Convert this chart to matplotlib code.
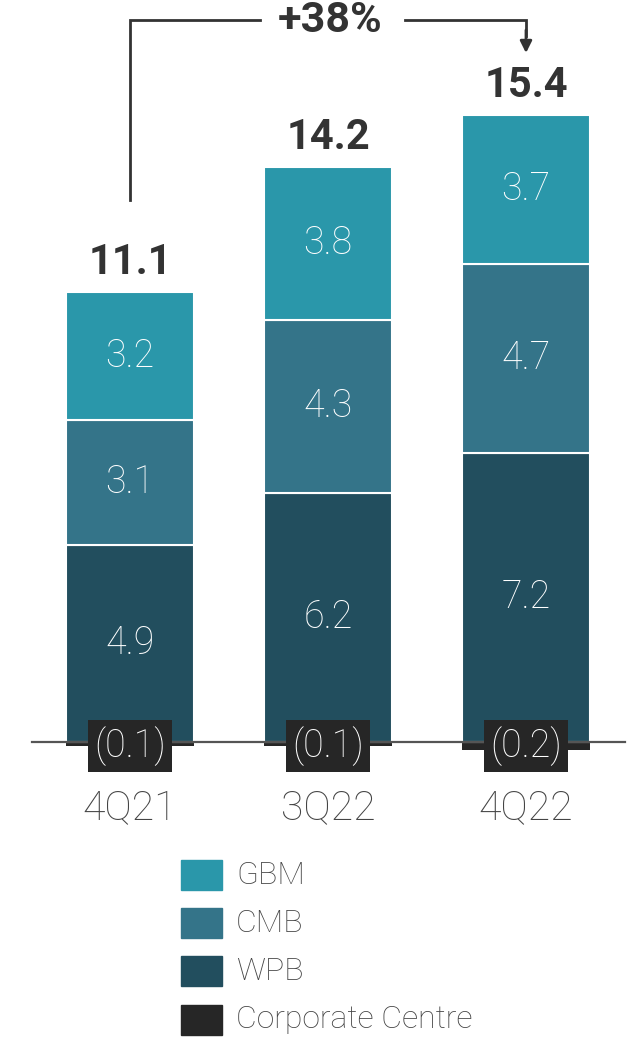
import matplotlib
matplotlib.use("Agg")
import matplotlib.pyplot as plt
import numpy as np

# Quarterly figures ($bn) by business segment
quarters = ["4Q21", "3Q22", "4Q22"]
gbm = [3.2, 3.8, 3.7]
cmb = [3.1, 4.3, 4.7]
wpb = [4.9, 6.2, 7.2]
corporate = [-0.1, -0.1, -0.2]
totals = [11.1, 14.2, 15.4]
growth_label = "+38%"

segment_names = ["GBM", "CMB", "WPB", "Corporate Centre"]
colors = {"GBM": "#2a97aa", "CMB": "#347489", "WPB": "#224e5e",
          "Corporate Centre": "#262626"}

plt.rcParams["font.family"] = ["Roboto", "DejaVu Sans"]

W, H = 634, 1037
PX = 40.2   # pixels per data unit
Y0 = 742    # pixel row of the zero line
fig = plt.figure(figsize=(W / 100, H / 100), dpi=100)
ax = fig.add_axes([0, 0, 1, 1])
ax.set_ylim((Y0 - H) / PX, Y0 / PX)
ax.set_xlim(-130 / 198, (W - 130) / 198)
ax.axis("off")


def py(p):
    """Pixel row -> data y."""
    return (Y0 - p) / PX


def px(p):
    """Pixel column -> data x."""
    return (p - 130) / 198


x = np.arange(len(quarters))
width = 0.646

b_wpb = np.array(wpb)
b_cmb = b_wpb + np.array(cmb)

ax.bar(x, corporate, width, color=colors["Corporate Centre"], zorder=2)
ax.bar(x, wpb, width, color=colors["WPB"], edgecolor="white", linewidth=1.5, zorder=2)
ax.bar(x, cmb, width, bottom=b_wpb, color=colors["CMB"], edgecolor="white", linewidth=1.5, zorder=2)
ax.bar(x, gbm, width, bottom=b_cmb, color=colors["GBM"], edgecolor="white", linewidth=1.5, zorder=2)

# zero line
ax.plot([px(32), px(625)], [0, 0], color="#555555", lw=1.6, zorder=3)

seg_fs = 27
for i in range(len(quarters)):
    ax.text(x[i], wpb[i] / 2, f"{wpb[i]:.1f}", ha="center", va="center",
            color="white", fontsize=seg_fs, fontweight="light", zorder=4)
    ax.text(x[i], b_wpb[i] + cmb[i] / 2, f"{cmb[i]:.1f}", ha="center", va="center",
            color="white", fontsize=seg_fs, fontweight="light", zorder=4)
    ax.text(x[i], b_cmb[i] + gbm[i] / 2, f"{gbm[i]:.1f}", ha="center", va="center",
            color="white", fontsize=seg_fs, fontweight="light", zorder=4)
    ax.text(x[i], -0.1, f"({abs(corporate[i]):.1f})", ha="center", va="center",
            color="white", fontsize=seg_fs, fontweight="light", zorder=5,
            bbox=dict(boxstyle="square,pad=0.16", fc=colors["Corporate Centre"], ec="none"))
    top = b_cmb[i] + gbm[i]
    ax.text(x[i], top + 0.22, f"{totals[i]:.1f}", ha="center", va="bottom",
            color="#333333", fontsize=30, fontweight="bold", zorder=4)
    ax.text(x[i], py(808), quarters[i], ha="center", va="center",
            color="#444444", fontsize=29.5, fontweight="light")

# growth connector between first and last quarter
y_line = py(20)
lc = "#333333"
ax.plot([x[0], x[0], px(260)], [py(200), y_line, y_line], color=lc, lw=2,
        solid_joinstyle="miter", zorder=3)
ax.plot([px(405), x[2], x[2]], [y_line, y_line, py(36)], color=lc, lw=2,
        solid_joinstyle="miter", zorder=3)
ax.annotate("", xy=(x[2], py(53)), xytext=(x[2], py(30)),
            arrowprops=dict(arrowstyle="-|>,head_width=0.35,head_length=0.7",
                            color=lc, lw=2, shrinkA=0, shrinkB=0))
ax.text((x[0] + x[2]) / 2 + 0.01, y_line, growth_label, ha="center", va="center",
        color="#333333", fontsize=31, fontweight="bold")

# legend drawn as swatches with labels
leg_x0 = px(181)
leg_w = 41 / 198
leg_ys = [py(p) for p in [875, 923, 971, 1020]]
for name, ly in zip(segment_names, leg_ys):
    ax.add_patch(plt.Rectangle((leg_x0, ly - 15 / PX), leg_w, 30 / PX,
                               color=colors[name], zorder=3))
    ax.text(px(236), ly, name, ha="left", va="center",
            color="#444444", fontsize=23, fontweight="light")

fig.savefig("out.png", dpi=100)
